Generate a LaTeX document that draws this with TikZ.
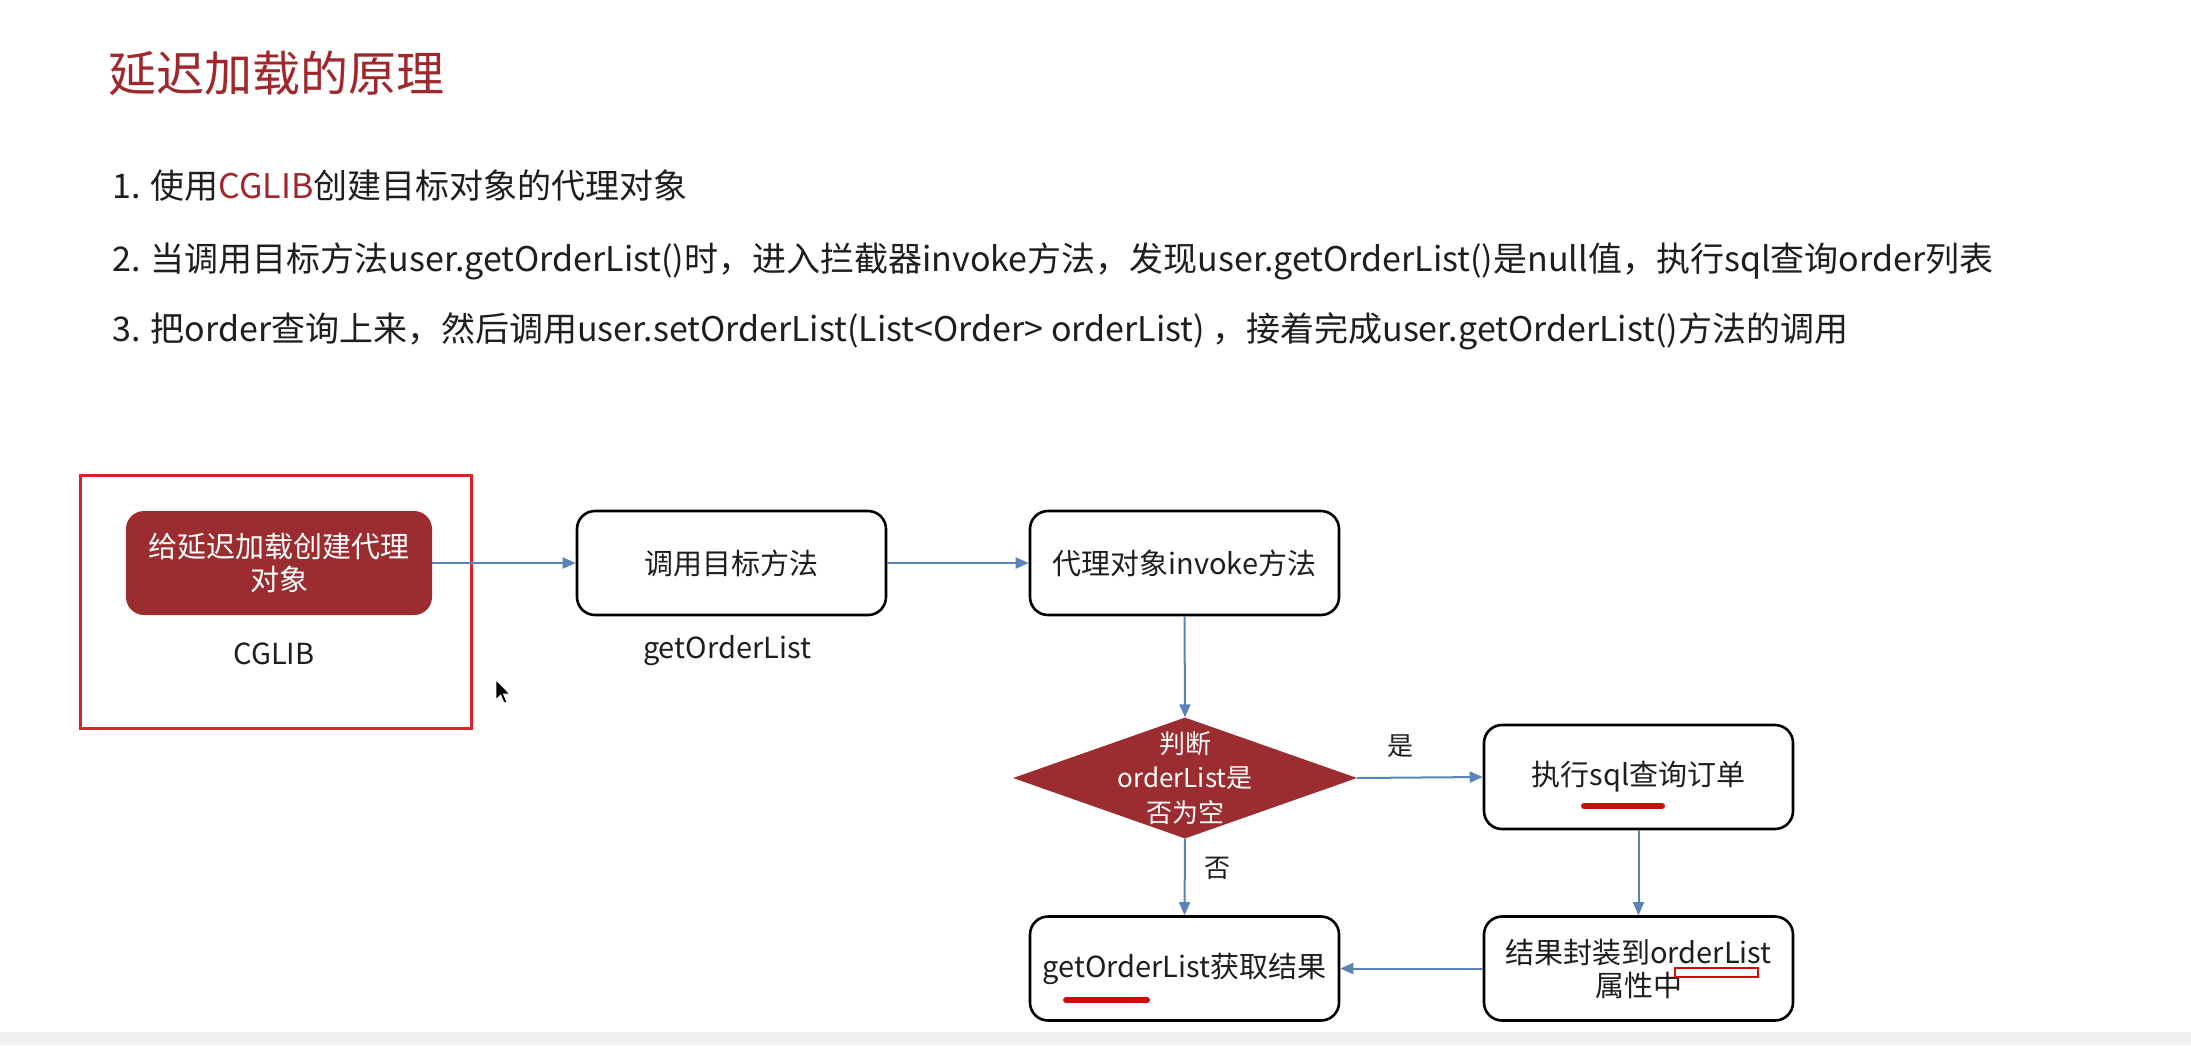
\documentclass[tikz,border=0pt]{standalone}
\usepackage{fontspec}
\setmainfont{Noto Sans CJK SC}
\usetikzlibrary{shapes.geometric,arrows.meta}

\definecolor{titlered}{HTML}{A0282D}
\definecolor{boxred}{HTML}{9B2D30}
\definecolor{framered}{HTML}{DC2129}
\definecolor{linkblue}{HTML}{5A83B6}
\definecolor{markred}{HTML}{D10A0A}
\definecolor{inktext}{HTML}{1E1E1E}
\definecolor{bandgrey}{HTML}{F0F0F0}

\begin{document}
\begin{tikzpicture}[x=1pt,y=-1pt,
  every node/.style={text=inktext},
  flowbox/.style={draw=black, line width=2.6pt, rounded corners=18pt, fill=white,
    minimum width=309pt, minimum height=104pt, inner sep=2pt, align=center,
    font=\fontsize{29}{33}\selectfont},
  redbox/.style={fill=boxred, rounded corners=18pt, minimum width=306pt,
    minimum height=104pt, inner sep=2pt, align=center, text=white,
    font=\fontsize{29}{33}\selectfont},
  decision/.style={diamond, fill=boxred, minimum width=344pt, minimum height=121pt,
    inner sep=0pt},
  decisiontext/.style={align=center, text=white, inner sep=0pt,
    font=\fontsize{26}{34.5}\selectfont},
  caption/.style={inner sep=0pt, font=\fontsize{29}{33}\selectfont},
  branch/.style={inner sep=0pt, font=\fontsize{26}{30}\selectfont},
  bodyline/.style={anchor=west, inner sep=0pt, font=\fontsize{34}{40}\selectfont},
  link/.style={draw=linkblue, line width=2pt, -{Triangle[length=13pt,width=11pt]}},
  penstroke/.style={draw=markred, line width=6pt, line cap=round}
]
\useasboundingbox (0,0) rectangle (2191,1045);
\fill[white] (0,0) rectangle (2191,1045);
\fill[bandgrey] (0,1032) rectangle (2191,1045);

% heading and the three numbered steps
\node[anchor=west, inner sep=0pt, text=titlered, font=\fontsize{48}{56}\selectfont]
  (heading) at (108,73) {延迟加载的原理};
\node[bodyline] (step1) at (112,186) {1. 使用\textcolor{titlered}{CGLIB}创建目标对象的代理对象};
\node[bodyline] (step2) at (112,261) {2. 当调用目标方法user.getOrderList()时，进入拦截器invoke方法，发现user.getOrderList()是null值，执行sql查询order列表};
\node[bodyline] (step3) at (112,331) {3. 把order查询上来，然后调用user.setOrderList(List<Order> orderList) ，接着完成user.getOrderList()方法的调用};

% highlighted proxy creation
\node[draw=framered, line width=3pt, minimum width=391pt, minimum height=253pt,
  inner sep=0pt] (frame) at (275.5,601.5) {};
\node[redbox] (proxy) at (279,563) {给延迟加载创建代理\\对象};
\node[caption] (cglib) at (274,654) {CGLIB};

% flow boxes
\node[flowbox] (call) at (731.5,563) {调用目标方法};
\node[caption] (calllbl) at (727,651) {getOrderList};
\node[flowbox] (invoke) at (1184.5,563) {代理对象invoke方法};
\node[decision] (check) at (1185,778) {};
\node[decisiontext] (checktext) at (1185,778) {判断\\orderList是\\否为空};
\node[flowbox] (sql) at (1638.5,777) {执行sql查询订单};
\node[flowbox] (result) at (1184.5,968.5) {getOrderList获取结果};
\node[flowbox] (wrap) at (1638.5,968.5) {结果封装到orderList\\属性中};

% connectors
\draw[link] (proxy.east) -- (call.west);
\draw[link] (call.east) -- (invoke.west);
\draw[link] (invoke.south) -- (check.north);
\draw[link] (check.east) -- (sql.west);
\draw[link] (check.south) -- (result.north);
\draw[link] (sql.south) -- (wrap.north);
\draw[link] (wrap.west) -- (result.east);

\node[branch] (yes) at (1400,746) {是};
\node[branch] (no) at (1217,868) {否};

% hand-drawn emphasis strokes
\draw[penstroke] (1584,806) -- (1662,806);
\draw[penstroke] (1066,1000) -- (1147,1000);
\draw[draw=markred, line width=2.2pt, fill=white] (1675,968) rectangle (1758,977);

% mouse pointer
\filldraw[fill=black, draw=white, line width=0.8pt, shift={(496,680)}, scale=1.15]
  (0,0) -- (0,17) -- (4,13) -- (7,20) -- (9.5,19) -- (6.5,12.2) -- (12,12.2) -- cycle;
\end{tikzpicture}
\end{document}
